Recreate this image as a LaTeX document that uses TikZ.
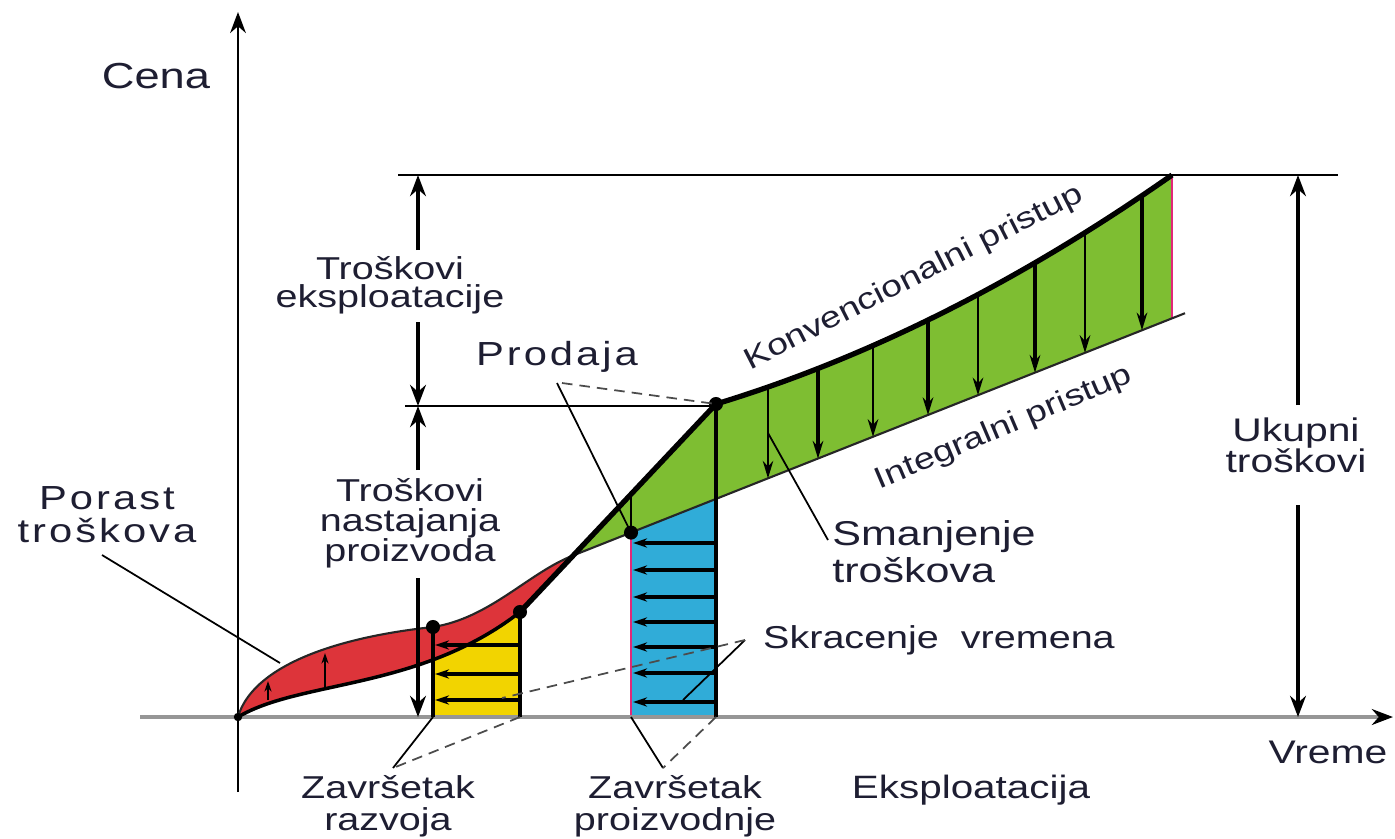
\documentclass[tikz,border=0pt]{standalone}
\usepackage{fontspec}
\setmainfont{Liberation Sans}[FakeStretch=1.25]
\usetikzlibrary{arrows.meta, positioning}
\definecolor{colRed}{RGB}{221,52,58}
\definecolor{colYellow}{RGB}{242,212,0}
\definecolor{colBlue}{RGB}{48,172,216}
\definecolor{colGreen}{RGB}{126,190,50}
\definecolor{colEdge}{RGB}{225,40,120}
\definecolor{colText}{RGB}{30,30,50}
\definecolor{colAxis}{RGB}{150,150,150}
\newcommand{\lblsize}[2]{\fontsize{#1}{#2}\selectfont}
\tikzset{
  axisline/.style={line width=0.5pt, -{Stealth[length=6pt, width=4.5pt]}},
  dimarr/.style={line width=1.2pt, -{Stealth[length=6pt, width=4.5pt]}},
  guide/.style={line width=0.6pt},
  leader/.style={line width=0.5pt},
  leaderdash/.style={line width=0.5pt, draw=black!70, dash pattern=on 3pt off 2pt},
  flow/.style={line width=0.9pt, -{Stealth[length=4pt, width=2.6pt]}},
  flowthin/.style={line width=0.4pt, -{Stealth[length=3pt, width=2pt]}},
  lbl/.style={text=colText, align=center, inner sep=0pt}
}

\begin{document}
\begin{tikzpicture}[x=0.1mm, y=-0.1mm]
  \useasboundingbox (0,0) rectangle (1395,838);

  % coloured areas
  \fill[colRed] (238,717) .. controls (252,668) and (330,638) .. (433,627)
    .. controls (490,618) and (528,573.3) .. (573,555.5) -- (520,612)
    .. controls (420,690) and (300,680) .. (238,717) -- cycle;
  \begin{scope}
    \clip (238,717) .. controls (300,680) and (420,690) .. (520,612) -- (520,717) -- cycle;
    \fill[colYellow] (433,590) rectangle (520,717);
  \end{scope}
  \fill[colBlue] (631,532.6) -- (716,498.9) -- (716,717) -- (631,717) -- cycle;
  \fill[colGreen] (573,555.5) -- (716,404) .. controls (868,357.8) and (1020,281.4) .. (1172,175)
    -- (1172,318.4) -- cycle;
  \draw[colEdge, line width=0.6pt] (631,532.6) -- (631,717) -- (716,717);
  \draw[colEdge, line width=0.6pt] (433,717) -- (520,717);
  \draw[colEdge, line width=0.8pt] (1172,175) -- (1172,318.4);

  % axes
  \draw[colAxis, line width=1pt, -{Stealth[length=6pt, width=4.5pt, color=black]}] (140,717) -- (1393,717);
  \draw[axisline] (238,792) -- (238,12);

  % guide lines
  \draw[guide] (398,175) -- (1338,175);
  \draw[guide] (405,406) -- (716,406);

  % integral approach
  \draw[line width=0.6pt, black!85] (238,717) .. controls (252,668) and (330,638) .. (433,627)
    .. controls (490,618) and (528,573.3) .. (573,555.5) -- (1185,313.2);
  % conventional approach
  \draw[line width=1pt] (238,717) .. controls (300,680) and (420,690) .. (520,612);
  \draw[line width=1.5pt, line join=round] (520,612) -- (716,404)
    .. controls (868,357.8) and (1020,281.4) .. (1172,175);

  % verticals and points
  \draw[line width=1.2pt] (433,627) -- (433,717);
  \draw[line width=1.2pt] (520,612) -- (520,717);
  \draw[line width=1.4pt] (716,404) -- (716,717);
  \draw[line width=0.5pt] (631,494.2) -- (631,532.6);
  \foreach \p in {(433,627), (520,612), (631,532.6), (716,404)}
    \fill \p circle (2pt);
  \fill (238,717) circle (1.2pt);

  % red area arrows
  \draw[flowthin] (268,700) -- (268,681);
  \draw[flowthin] (325,688) -- (325,653);
  % time shortening
  \foreach \y in {645,674,700}
    \draw[flow] (520,\y) -- (435,\y);
  \foreach \y in {543,570,597,622,647,673,702}
    \draw[flow] (716,\y) -- (633,\y);
  % cost reduction
  \foreach \x/\w in {768/0.5, 818/1.3, 873/0.8, 928/1.3, 978/0.8, 1035/1.3, 1085/0.8, 1142/1.3} {
    \pgfmathsetmacro{\offs}{\x-716}
    \pgfmathsetmacro{\ytop}{404-0.3042*\offs-0.000434*\offs*\offs}
    \pgfmathsetmacro{\ybot}{533-0.396*(\x-630)}
    \draw[line width=\w pt, -{Stealth[length=5pt, width=3pt]}] (\x,\ytop) -- (\x,\ybot);
  }

  % dimension arrows
  \draw[dimarr] (418,250) -- (418,175);
  \draw[dimarr] (418,322) -- (418,406);
  \draw[dimarr] (418,470) -- (418,406);
  \draw[dimarr] (418,578) -- (418,717);
  \draw[dimarr] (1298,405) -- (1298,175);
  \draw[dimarr] (1298,505) -- (1298,717);

  % labels
  \node[lbl, font=\lblsize{10.3}{12}] (cena) at (156,76) {Cena};
  \node[lbl, font=\lblsize{9.5}{9.4}\addfontfeatures{LetterSpace=9}] (porast) at (107,515) {Porast\\troškova};
  \node[lbl, font=\lblsize{9}{8}] (eksp) at (390,285) {Troškovi\\eksploatacije};
  \node[lbl, font=\lblsize{9}{8.5}] (nast) at (410,523) {Troškovi\\nastajanja\\proizvoda};
  \node[lbl, font=\lblsize{9.5}{10}\addfontfeatures{LetterSpace=9}] (prodaja) at (557,357) {Prodaja};
  \node[lbl, font=\lblsize{9.3}{8.8}] (ukupni) at (1296,445) {Ukupni\\troškovi};
  \node[lbl, font=\lblsize{9.8}{10.5}, align=left] (smanj) at (934,552) {Smanjenje\\troškova};
  \node[lbl, font=\lblsize{9}{10}] (skrac) at (939,640) {Skracenje\ \ vremena};
  \node[lbl, font=\lblsize{9}{9}] (razvoj) at (388,806) {Završetak\\razvoja};
  \node[lbl, font=\lblsize{9}{9}] (proizv) at (675,806) {Završetak\\proizvodnje};
  \node[lbl, font=\lblsize{9.2}{10}] (eksplo) at (971,790) {Eksploatacija};
  \node[lbl, font=\lblsize{9.3}{10}] (vreme) at (1328,752) {Vreme};
  \node[lbl, font=\lblsize{8.5}{10}, rotate=27] (konv) at (914,278) {Konvencionalni pristup};
  \node[lbl, font=\lblsize{8.5}{10}, rotate=23] (integ) at (1004,428) {Integralni pristup};

  % leader lines
  \coordinate (pRazvoj) at (393,768);
  \coordinate (pProizv) at (663,768);
  \coordinate (pSkrac) at (745,640);
  \draw[leader] (102,555) -- (280,663);
  \draw[leader] (557,383) -- (631,532.6);
  \draw[leaderdash] (562,383) -- (716,404);
  \draw[leader] (768,433) -- (828,540);
  \draw[leader] (pSkrac) -- (683,700);
  \draw[leaderdash] (pSkrac) -- (502,698);
  \draw[leader] (433,717) -- (pRazvoj);
  \draw[leaderdash] (520,717) -- (pRazvoj);
  \draw[leader] (631,717) -- (pProizv);
  \draw[leaderdash] (716,717) -- (pProizv);
\end{tikzpicture}
\end{document}
